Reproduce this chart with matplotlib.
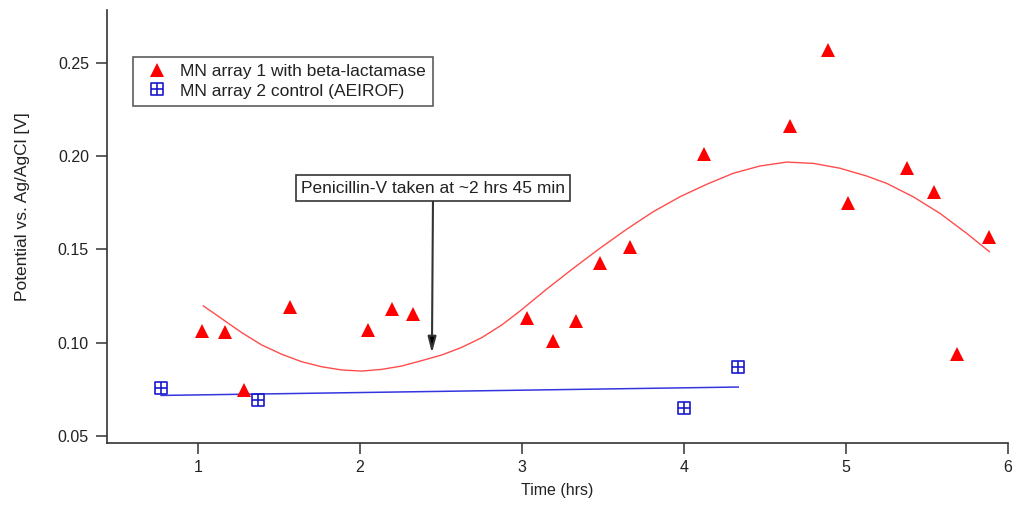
import numpy as np
import matplotlib
matplotlib.use("Agg")
import matplotlib.pyplot as plt
from matplotlib.path import Path

plt.rcParams['font.family'] = ['Liberation Sans', 'DejaVu Sans']

# --- data ---
red_t = [1.027, 1.169, 1.284, 1.568, 2.049, 2.199, 2.325, 3.033, 3.190, 3.331,
         3.481, 3.665, 4.122, 4.654, 4.887, 5.012, 5.377, 5.543, 5.683, 5.885]
red_v = [0.1064, 0.1056, 0.0747, 0.1193, 0.1068, 0.1179, 0.1152, 0.1131, 0.1011, 0.1116,
         0.1425, 0.1514, 0.2011, 0.2163, 0.2569, 0.1747, 0.1935, 0.1806, 0.0938, 0.1568]

# fitted curve for array 1
fit_t = [1.033, 1.105, 1.187, 1.270, 1.393, 1.517, 1.640, 1.764, 1.887, 2.010,
         2.134, 2.257, 2.381, 2.504, 2.628, 2.751, 2.875, 2.988, 3.152, 3.317,
         3.481, 3.646, 3.810, 3.975, 4.140, 4.304, 4.469, 4.634, 4.798, 4.963,
         5.128, 5.251, 5.415, 5.580, 5.745, 5.885]
fit_v = [0.1197, 0.1154, 0.1104, 0.1054, 0.0988, 0.0938, 0.0898, 0.0871, 0.0854, 0.0848,
         0.0857, 0.0875, 0.0904, 0.0934, 0.0975, 0.1027, 0.1095, 0.1170, 0.1287, 0.1399,
         0.1506, 0.1608, 0.1702, 0.1782, 0.1849, 0.1908, 0.1947, 0.1968, 0.1961, 0.1935,
         0.1893, 0.1854, 0.1782, 0.1693, 0.1586, 0.1488]

blue_t = [0.772, 1.372, 4.000, 4.335]
blue_v = [0.0756, 0.0691, 0.0648, 0.0868]

x_ticks = [1, 2, 3, 4, 5, 6]
y_ticks = [0.05, 0.10, 0.15, 0.20, 0.25]

label_red = "MN array 1 with beta-lactamase"
label_blue = "MN array 2 control (AEIROF)"
note_text = "Penicillin-V taken at ~2 hrs 45 min"
note_xy = (2.444, 0.0945)
note_text_xy = (2.451, 0.1829)

# --- figure ---
fig = plt.figure(figsize=(10.22, 5.11), dpi=100)
ax = fig.add_axes([107/1022, 1 - 443/511, (1008-107)/1022, (443-10)/511])

# boxed-plus marker
verts = [(-1, -1), (1, -1), (1, 1), (-1, 1), (-1, -1), (0, -1), (0, 1), (-1, 0), (1, 0)]
codes = [Path.MOVETO, Path.LINETO, Path.LINETO, Path.LINETO, Path.CLOSEPOLY,
         Path.MOVETO, Path.LINETO, Path.MOVETO, Path.LINETO]
boxplus = Path(verts, codes)

ax.plot(fit_t, fit_v, color='#ff4d4d', lw=1.0, zorder=2, solid_joinstyle='round')
coef = np.polyfit(blue_t, blue_v, 1)
bt = np.array([min(blue_t), max(blue_t)])
ax.plot(bt, np.polyval(coef, bt), color='#3535e0', lw=1.1, zorder=2)

ax.plot(red_t, red_v, linestyle='none', marker='^', ms=9.5, color='#ff0000',
        markeredgewidth=0, label=label_red, zorder=3)
ax.plot(blue_t, blue_v, linestyle='none', marker=boxplus, ms=8.5,
        markerfacecolor='none', markeredgecolor='#1a1acc', markeredgewidth=1.2,
        label=label_blue, zorder=3)

ax.set_xlim(0.4383, 6.0)
ax.set_ylim(0.04625, 0.2783)
ax.set_xticks(x_ticks)
ax.set_xticklabels([str(v) for v in x_ticks])
ax.set_yticks(y_ticks)
ax.set_yticklabels(["%.2f" % v for v in y_ticks])

for s in ['top', 'right']:
    ax.spines[s].set_visible(False)
for s in ['left', 'bottom']:
    ax.spines[s].set_color('#333333')
    ax.spines[s].set_linewidth(1.2)
ax.tick_params(axis='both', direction='out', length=8, width=1.1, color='#333333',
               labelsize=11.5, labelcolor='#222222')
ax.tick_params(axis='y', pad=5)
ax.tick_params(axis='x', pad=4)

ax.set_xlabel("Time (hrs)", fontsize=11.5, color='#222222', labelpad=6)
ax.set_ylabel("Potential vs. Ag/AgCl [V]", fontsize=12.5, color='#222222')
ax.yaxis.set_label_coords(-0.085, 0.545)

leg = ax.legend(loc='upper left', bbox_to_anchor=(0.0289, 0.8915), borderaxespad=0,
                fontsize=12.5, frameon=True, fancybox=False, borderpad=0.4,
                handlelength=2.0, handletextpad=0.3, labelspacing=0.25, numpoints=1)
leg.get_frame().set_edgecolor('#333333')
leg.get_frame().set_linewidth(1.2)
for t in leg.get_texts():
    t.set_color('#222222')

ax.annotate(note_text, xy=note_xy, xytext=note_text_xy, ha='center', va='center',
            fontsize=12.5, color='#222222',
            bbox=dict(boxstyle='square,pad=0.3', fc='white', ec='#333333', lw=1.2),
            arrowprops=dict(arrowstyle='-|>,head_length=0.95,head_width=0.25',
                            mutation_scale=10, color='#333333', lw=1.5,
                            shrinkA=0, shrinkB=0, fc='black'))

fig.savefig("out.png", dpi=100)
